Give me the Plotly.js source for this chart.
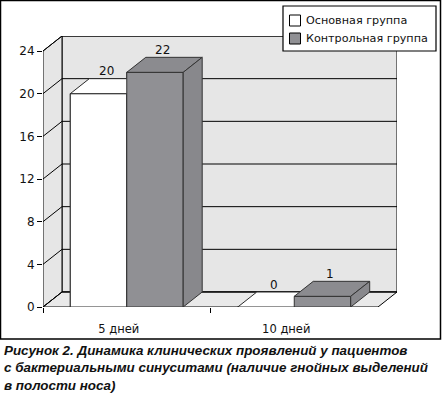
<!DOCTYPE html>
<html><head><meta charset="utf-8">
<script src="https://cdn.plot.ly/plotly-3.0.1.min.js"></script>
<style>html,body{margin:0;padding:0;background:#fff;}#chart{width:442px;height:395px;}</style>
</head><body><div id="chart"></div>
<script>
// ---- data ----
const categories = ['5 дней', '10 дней'];
const seriesNames = ['Основная группа', 'Контрольная группа'];
const mainValues = [20, 0];
const controlValues = [22, 1];
const yTickVals = [0, 4, 8, 12, 16, 20, 24];
const yTickText = ['0', '4', '8', '12', '16', '20', '24'];
const captionLines = [
  'Рисунок 2. Динамика клинических проявлений у пациентов',
  'с бактериальными синуситами (наличие гнойных выделений',
  'в полости носа)'
];

// ---- style ----
const W = 442, H = 395;
const M = {l: 43, r: 45, t: 36, b: 88};
const plotW = W - M.l - M.r, plotH = H - M.t - M.b;
const depthPx = {x: 19, y: 15};
const yMax = 24;
const xUnit = (plotW - depthPx.x) / categories.length;
const yUnit = (plotH - depthPx.y) / yMax;
const DX = depthPx.x / xUnit, DY = depthPx.y / yUnit;
const x0 = -0.5, x1 = categories.length - 0.5;
const barW = 0.337;
const fonts = '"DejaVu Sans", Verdana, sans-serif';
const capFont = '"Liberation Sans", Arial, sans-serif';
const txtColor = '#111111';
const faceColors = [
  {front: '#ffffff', top: '#ffffff', side: '#f2f2f2', line: '#2a2a2a'},
  {front: '#909094', top: '#8b8b8f', side: '#88888c', line: '#333333'}
];
const wallColor = '#e6e6e6', floorColor = '#e9e9e9';

const allSeries = [mainValues, controlValues];
const px2x = p => (p - M.l) / plotW;
const py2y = p => (H - M.b - p) / plotH;

const traces = [];
allSeries.forEach((vals, s) => {
  traces.push({type: 'bar', x: categories.map((c, i) => i), y: vals, name: seriesNames[s],
    marker: {color: faceColors[s].front, line: {color: faceColors[s].line, width: 1}},
    showlegend: false, hoverinfo: 'skip'});
});
allSeries.forEach((vals, s) => {
  const off = (s - (allSeries.length - 1) / 2) * barW;
  const f = {front: [[], []], top: [[], []], side: [[], []]};
  vals.forEach((v, c) => {
    const a = c + off - barW / 2, b = a + barW;
    f.front[0].push(a, b, b, a, a, null); f.front[1].push(0, 0, v, v, 0, null);
    f.top[0].push(a, b, b + DX, a + DX, a, null); f.top[1].push(v, v, v + DY, v + DY, v, null);
    f.side[0].push(b, b + DX, b + DX, b, b, null); f.side[1].push(0, DY, v + DY, v, 0, null);
  });
  ['front', 'top', 'side'].forEach(k => {
    traces.push({type: 'scatter', mode: 'lines', x: f[k][0], y: f[k][1], fill: 'toself',
      fillcolor: faceColors[s][k], line: {color: faceColors[s].line, width: 1},
      showlegend: false, hoverinfo: 'skip'});
  });
});

const shapes = [];
shapes.push({type: 'path', xref: 'x', yref: 'y', layer: 'below',
  path: `M${x0 + DX},${DY} L${x1 + DX},${DY} L${x1 + DX},${yMax + DY} L${x0 + DX},${yMax + DY} Z`,
  fillcolor: wallColor, line: {color: '#000', width: 1}});
shapes.push({type: 'path', xref: 'x', yref: 'y', layer: 'below',
  path: `M${x0},0 L${x0 + DX},${DY} L${x0 + DX},${yMax + DY} L${x0},${yMax} Z`,
  fillcolor: wallColor, line: {color: '#000', width: 1}});
shapes.push({type: 'path', xref: 'x', yref: 'y', layer: 'below',
  path: `M${x0},0 L${x1},0 L${x1 + DX},${DY} L${x0 + DX},${DY} Z`,
  fillcolor: floorColor, line: {color: '#000', width: 1}});
yTickVals.forEach(t => {
  shapes.push({type: 'line', xref: 'x', yref: 'y', layer: 'below', x0: x0 + DX, x1: x1 + DX, y0: t + DY, y1: t + DY, line: {color: '#000', width: 1}});
  shapes.push({type: 'line', xref: 'x', yref: 'y', layer: 'below', x0: x0, x1: x0 + DX, y0: t, y1: t + DY, line: {color: '#000', width: 1}});
});
shapes.push({type: 'rect', xref: 'paper', yref: 'paper', layer: 'above',
  x0: px2x(0.5), x1: px2x(440.5), y0: py2y(339), y1: py2y(0.5), line: {color: '#000', width: 1.5}});
shapes.push({type: 'rect', xref: 'paper', yref: 'paper', layer: 'above',
  x0: px2x(283), x1: px2x(436), y0: py2y(51), y1: py2y(6), fillcolor: '#fff', line: {color: '#000', width: 1.2}});
const legendRows = [20.5, 38.5];
seriesNames.forEach((nm, s) => {
  const cy = legendRows[s];
  shapes.push({type: 'rect', xref: 'paper', yref: 'paper', layer: 'above',
    x0: px2x(289.5), x1: px2x(300.5), y0: py2y(cy + 5.5), y1: py2y(cy - 5.5),
    fillcolor: faceColors[s].front, line: {color: '#000', width: 1}});
});

const annotations = [];
seriesNames.forEach((nm, s) => {
  annotations.push({xref: 'paper', yref: 'paper', x: px2x(304), y: py2y(legendRows[s]), xanchor: 'left', yanchor: 'middle',
    text: nm, showarrow: false, font: {family: fonts, size: 11.2, color: txtColor}});
});
allSeries.forEach((vals, s) => {
  const off = (s - (allSeries.length - 1) / 2) * barW;
  vals.forEach((v, c) => {
    annotations.push({xref: 'x', yref: 'y', x: c + off + DX / 2, y: v + DY / 2, yshift: 15, xshift: -2,
      text: String(v), showarrow: false, font: {family: fonts, size: 12, color: txtColor}, yanchor: 'middle'});
  });
});
annotations.push({xref: 'paper', yref: 'paper', x: px2x(2), y: py2y(341), xanchor: 'left', yanchor: 'top', align: 'left',
  text: captionLines.map(l => '<b><i>' + l + '</i></b>').join('<br>'), showarrow: false,
  font: {family: capFont, size: 13.4, color: '#111111'}});

const layout = {
  width: W, height: H, margin: M, paper_bgcolor: '#fff', plot_bgcolor: 'rgba(0,0,0,0)',
  showlegend: false, barmode: 'group', bargap: 1 - 2 * barW, bargroupgap: 0,
  xaxis: {range: [x0, x1 + DX], tickvals: categories.map((c, i) => i), ticktext: categories,
    ticks: '', showgrid: false, zeroline: false, showline: false, ticklabelshift: -8, ticklabelstandoff: 13,
    tickfont: {family: fonts, size: 11.5, color: txtColor}, fixedrange: true,
    minor: {tickmode: 'array', tickvals: [x0, 0.5], ticks: 'outside', ticklen: 5, tickcolor: '#000', tickwidth: 1, showgrid: false}},
  yaxis: {range: [0, yMax + DY], tickvals: yTickVals, ticktext: yTickText, ticks: 'outside', ticklen: 5,
    tickcolor: '#000', showgrid: false, zeroline: false, showline: false,
    tickfont: {family: fonts, size: 12, color: txtColor}, fixedrange: true},
  shapes: shapes, annotations: annotations
};
Plotly.newPlot('chart', traces, layout, {staticPlot: true, displayModeBar: false});
</script></body></html>
